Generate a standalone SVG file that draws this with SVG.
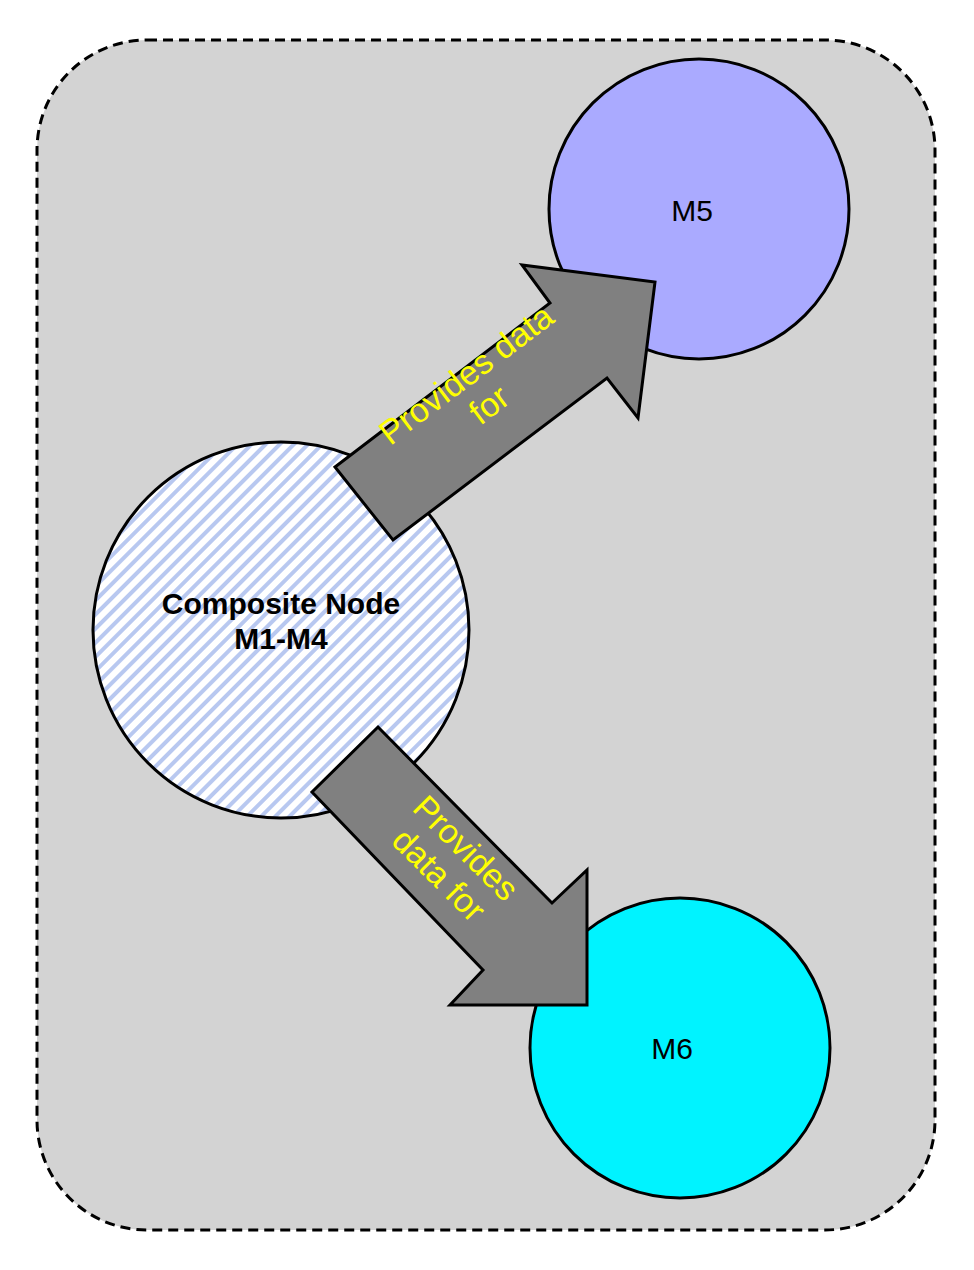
<svg xmlns="http://www.w3.org/2000/svg" width="974" height="1270" viewBox="0 0 974 1270">
<style>
.node{stroke:#000;stroke-width:3}
.arrow{fill:#808080;stroke:#000;stroke-width:3;stroke-linejoin:miter}
.lbl{font-family:"Liberation Sans",Arial,sans-serif;font-size:34px;fill:#ffff00;text-anchor:middle}
.nt{font-family:"Liberation Sans",Arial,sans-serif;font-size:30px;fill:#000;text-anchor:middle}
</style>
<defs>
<pattern id="hatch" width="10" height="10" patternUnits="userSpaceOnUse" patternTransform="rotate(-45)">
<rect width="10" height="10" fill="#ffffff"/>
<rect width="10" height="4" fill="#b8c8f0"/>
</pattern>
</defs>
<rect x="0" y="0" width="974" height="1270" fill="#fff"/>
<rect id="container" x="37" y="40" width="898" height="1190" rx="110" fill="#d3d3d3" stroke="#000" stroke-width="3" stroke-dasharray="10,6"/>
<g id="M5"><circle class="node" cx="699" cy="209" r="150" fill="#aaaaff"/><text class="nt" x="692" y="221">M5</text></g>
<g id="M6"><circle class="node" cx="680" cy="1048" r="150" fill="#00f3ff"/><text class="nt" x="672" y="1059">M6</text></g>
<g id="composite"><circle class="node" cx="281" cy="630" r="188" fill="url(#hatch)"/>
<text class="nt" x="281" y="614" font-weight="bold">Composite Node</text>
<text class="nt" x="281" y="649" font-weight="bold">M1-M4</text></g>
<g id="connectors">
<polygon class="arrow" points="335,467 550,303 522,265 655,282 638,418 607,378 393,540"/>
<text class="lbl" transform="translate(478,390) rotate(-37)"><tspan x="0" y="-8">Provides data</tspan><tspan x="0" y="30">for</tspan></text>
<polygon class="arrow" points="378,727 552,903 587,870 587,1005 450,1005 483,970 312,792"/>
<text class="lbl" transform="translate(452,862) rotate(45)"><tspan x="0" y="-8">Provides</tspan><tspan x="0" y="30">data for</tspan></text>
</g>
</svg>
